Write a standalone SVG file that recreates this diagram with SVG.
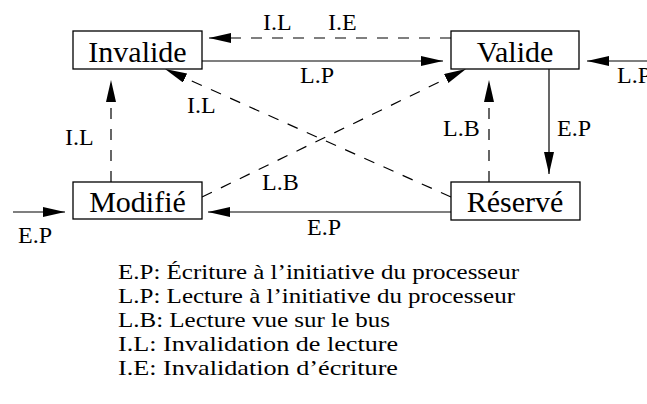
<svg xmlns="http://www.w3.org/2000/svg" width="647" height="404" viewBox="0 0 647 404">
<defs>
<marker id="ah" markerUnits="userSpaceOnUse" markerWidth="24" markerHeight="12" refX="22" refY="5" orient="auto">
<path d="M0,0 L22,5 L0,10 z" fill="#000"/>
</marker>
<style>
.box{fill:#fff;stroke:#000;stroke-width:1.3}
.nt{font-family:"Liberation Serif","Times New Roman",serif;font-size:30px;text-anchor:middle;fill:#000}
.lb{font-family:"Liberation Serif","Times New Roman",serif;font-size:24px;fill:#000}
.lg{font-family:"Liberation Serif","Times New Roman",serif;font-size:22px;fill:#000}
.c{fill:none;stroke:#000;stroke-width:1.2;marker-end:url(#ah)}
.d{stroke-dasharray:11 10}
</style>
</defs>
<g id="connectors">
<line class="c d" x1="451" y1="38" x2="209" y2="38"/>
<line class="c" x1="202" y1="61" x2="443" y2="61"/>
<line class="c" x1="647" y1="61" x2="587" y2="61"/>
<line class="c d" x1="451" y1="197" x2="165" y2="69"/>
<line class="c d" x1="202" y1="197" x2="466" y2="69"/>
<line class="c d" x1="489" y1="182" x2="489" y2="80"/>
<line class="c" x1="549" y1="69" x2="549" y2="174"/>
<line class="c d" x1="111" y1="182" x2="111" y2="80"/>
<line class="c" x1="451" y1="212" x2="208" y2="212"/>
<line class="c" x1="13" y1="212" x2="65" y2="212"/>
<text class="lb" x="263" y="30">I.L</text>
<text class="lb" x="328" y="30">I.E</text>
<text class="lb" x="300" y="83">L.P</text>
<text class="lb" x="617" y="83">L.P</text>
<text class="lb" x="187" y="113">I.L</text>
<text class="lb" x="65" y="145">I.L</text>
<text class="lb" x="262" y="190">L.B</text>
<text class="lb" x="443" y="136">L.B</text>
<text class="lb" x="557" y="136">E.P</text>
<text class="lb" x="307" y="235">E.P</text>
<text class="lb" x="18" y="243">E.P</text>
</g>
<g id="invalide">
<rect class="box" x="73" y="31" width="129" height="38"/>
<text class="nt" x="137.5" y="62">Invalide</text>
</g>
<g id="valide">
<rect class="box" x="451" y="31" width="128" height="38"/>
<text class="nt" x="515" y="62">Valide</text>
</g>
<g id="modifie">
<rect class="box" x="73" y="182" width="129" height="37"/>
<text class="nt" x="137.5" y="212">Modifié</text>
</g>
<g id="reserve">
<rect class="box" x="451" y="182" width="129" height="38"/>
<text class="nt" x="515" y="212">Réservé</text>
</g>
<g id="legend">
<text class="lg" x="118" y="279" textLength="401" lengthAdjust="spacingAndGlyphs">E.P: Écriture à l’initiative du processeur</text>
<text class="lg" x="118" y="303" textLength="397" lengthAdjust="spacingAndGlyphs">L.P: Lecture à l’initiative du processeur</text>
<text class="lg" x="118" y="327" textLength="272" lengthAdjust="spacingAndGlyphs">L.B: Lecture vue sur le bus</text>
<text class="lg" x="118" y="351" textLength="280" lengthAdjust="spacingAndGlyphs">I.L: Invalidation de lecture</text>
<text class="lg" x="118" y="375" textLength="280" lengthAdjust="spacingAndGlyphs">I.E: Invalidation d’écriture</text>
</g>
</svg>
